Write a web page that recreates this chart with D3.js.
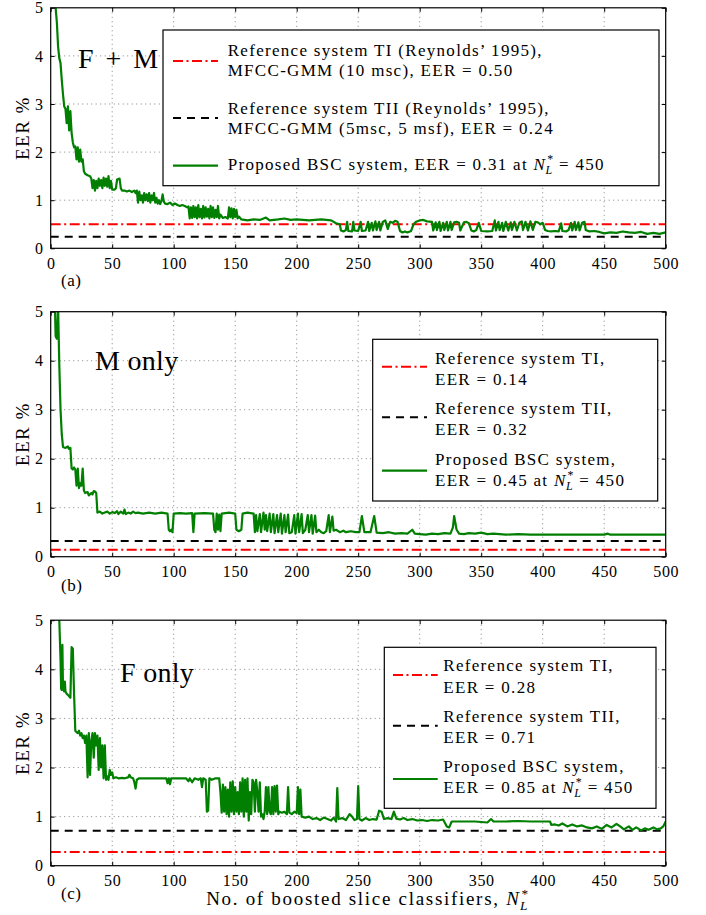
<!DOCTYPE html>
<html>
<head>
<meta charset="utf-8">
<script src="https://cdn.jsdelivr.net/npm/d3@7"></script>
<style>
  body { margin: 0; background: #fff; }
  svg { display: block; }
  text { font-family: "Liberation Serif", "Times New Roman", serif; fill: #000; }
</style>
</head>
<body>
<div id="chart"></div>
<script>
(function () {
  const WIDTH = 706;
  const HEIGHT = 915;

  const xTicks = [0, 50, 100, 150, 200, 250, 300, 350, 400, 450, 500];
  const yTicks = [0, 1, 2, 3, 4, 5];

  // EER (%) vs number of boosted slice classifiers
  const eerFM = [[1,5.8],[3,5.3],[5,4.7],[6,4.2],[7,3.95],[8,3.85],[9,3.5],[10,3.2],[11,2.95],[12,2.9],[13,2.6],[14,2.95],[15,2.45],[16,2.85],[17,2.4],[18,2.2],[19,2.1],[20,2.12],[21,1.85],[22,2.1],[23,1.8],[24,2.05],[25,1.8],[26,1.85],[27,1.6],[28,1.55],[30,1.52],[32,1.5],[33,1.45],[34,1.25],[35,1.42],[36,1.2],[37,1.4],[38,1.25],[39,1.45],[40,1.3],[41,1.42],[42,1.25],[43,1.47],[44,1.3],[45,1.45],[46,1.28],[47,1.5],[48,1.25],[49,1.4],[50,1.22],[52,1.22],[53,1.25],[54,1.43],[56,1.45],[57,1.25],[58,1.2],[60,1.2],[62,1.18],[64,1.2],[66,1.17],[68,1.2],[69,1.15],[70,1.2],[71,0.95],[72,1.18],[73,1.0],[74,1.1],[75,0.95],[76,1.15],[77,1.0],[78,1.12],[79,0.98],[80,1.15],[81,0.95],[82,1.1],[83,1.0],[84,1.15],[85,0.95],[86,1.05],[87,0.93],[88,1.0],[89,0.92],[90,0.98],[91,1.12],[92,0.97],[93,0.93],[95,0.92],[97,0.95],[99,0.9],[101,0.93],[103,0.9],[105,0.88],[107,0.9],[109,0.88],[111,0.85],[112,0.87],[113,0.62],[114,0.85],[115,0.63],[116,0.88],[117,0.65],[118,0.85],[119,0.62],[120,0.9],[121,0.65],[122,0.82],[123,0.62],[124,0.88],[125,0.64],[126,0.85],[127,0.66],[128,0.82],[129,0.62],[130,0.88],[131,0.65],[132,0.85],[133,0.63],[134,0.8],[135,0.65],[136,0.88],[137,0.62],[138,0.7],[140,0.63],[142,0.65],[144,0.62],[145,0.85],[146,0.65],[147,0.83],[148,0.62],[149,0.82],[150,0.65],[151,0.8],[152,0.62],[153,0.66],[155,0.6],[160,0.58],[165,0.6],[170,0.59],[175,0.64],[178,0.58],[185,0.6],[190,0.62],[195,0.59],[200,0.6],[210,0.58],[220,0.6],[228,0.58],[232,0.52],[235,0.5],[236,0.37],[238,0.35],[240,0.38],[241,0.55],[242,0.36],[245,0.35],[246,0.55],[247,0.37],[250,0.36],[252,0.55],[253,0.36],[256,0.37],[258,0.55],[259,0.36],[261,0.53],[262,0.37],[264,0.56],[265,0.38],[267,0.55],[268,0.37],[270,0.55],[272,0.58],[274,0.4],[276,0.55],[278,0.53],[280,0.57],[282,0.55],[284,0.36],[286,0.33],[288,0.35],[290,0.33],[293,0.36],[295,0.5],[297,0.55],[300,0.58],[303,0.59],[306,0.56],[310,0.55],[311,0.37],[313,0.54],[314,0.38],[316,0.55],[317,0.36],[319,0.53],[320,0.38],[322,0.55],[323,0.37],[325,0.55],[326,0.38],[328,0.54],[330,0.55],[332,0.53],[333,0.37],[336,0.54],[338,0.55],[340,0.52],[342,0.37],[344,0.35],[346,0.38],[348,0.53],[350,0.36],[355,0.35],[359,0.36],[361,0.58],[362,0.37],[364,0.55],[365,0.38],[367,0.53],[368,0.36],[370,0.55],[372,0.37],[374,0.54],[375,0.38],[377,0.55],[379,0.37],[381,0.53],[383,0.56],[384,0.38],[386,0.55],[388,0.37],[390,0.56],[392,0.38],[394,0.55],[396,0.54],[398,0.5],[400,0.53],[402,0.38],[404,0.36],[407,0.35],[410,0.36],[413,0.35],[415,0.52],[416,0.36],[419,0.35],[421,0.38],[423,0.53],[424,0.37],[426,0.55],[427,0.38],[429,0.54],[430,0.37],[432,0.53],[434,0.55],[435,0.38],[438,0.35],[442,0.36],[446,0.34],[450,0.31],[455,0.33],[460,0.32],[465,0.35],[470,0.33],[475,0.32],[480,0.34],[485,0.3],[490,0.32],[495,0.3],[500,0.33]];

  const eerM = [[3,5.6],[4,4.5],[5,4.45],[6,5.1],[7,3.9],[8,3.0],[9,2.5],[10,2.24],[12,2.22],[14,2.25],[15,2.2],[16,2.22],[17,1.8],[18,1.78],[19,1.82],[20,1.78],[21,1.45],[22,1.8],[23,1.4],[24,1.5],[25,1.45],[26,1.8],[27,1.35],[28,1.3],[30,1.32],[31,1.25],[33,1.3],[34,1.27],[35,1.34],[36,1.33],[37,1.3],[38,0.9],[40,0.92],[42,0.88],[44,0.9],[46,0.92],[48,0.88],[50,0.91],[52,0.89],[54,0.93],[55,0.87],[57,0.92],[59,0.88],[60,0.96],[61,0.87],[63,0.9],[65,0.88],[67,0.92],[69,0.89],[71,0.9],[75,0.88],[80,0.9],[85,0.88],[90,0.9],[95,0.88],[96,0.55],[97,0.52],[98,0.55],[99,0.5],[100,0.88],[105,0.89],[110,0.88],[115,0.89],[116,0.5],[117,0.88],[125,0.89],[132,0.88],[133,0.55],[134,0.5],[135,0.88],[136,0.55],[137,0.86],[138,0.52],[139,0.88],[145,0.9],[150,0.88],[151,0.55],[153,0.52],[155,0.55],[156,0.88],[160,0.9],[165,0.88],[166,0.5],[167,0.85],[168,0.52],[170,0.87],[171,0.5],[173,0.9],[174,0.55],[175,0.85],[176,0.52],[178,0.88],[179,0.5],[181,0.87],[182,0.48],[184,0.85],[185,0.5],[187,0.88],[188,0.47],[190,0.85],[191,0.5],[193,0.86],[194,0.48],[196,0.5],[198,0.85],[199,0.47],[201,0.88],[202,0.5],[204,0.87],[205,0.48],[207,0.55],[209,0.85],[210,0.5],[212,0.85],[213,0.47],[215,0.84],[216,0.5],[218,0.55],[220,0.5],[222,0.48],[224,0.52],[226,0.85],[227,0.5],[229,0.82],[230,0.53],[232,0.55],[235,0.5],[238,0.53],[240,0.5],[244,0.52],[248,0.5],[251,0.5],[253,0.83],[255,0.5],[260,0.5],[263,0.83],[265,0.49],[270,0.48],[275,0.5],[280,0.47],[285,0.48],[290,0.47],[294,0.55],[296,0.47],[300,0.46],[305,0.45],[310,0.47],[315,0.46],[320,0.48],[325,0.47],[327,0.6],[328,0.83],[330,0.55],[332,0.47],[336,0.46],[340,0.48],[345,0.47],[350,0.49],[355,0.46],[360,0.47],[365,0.46],[370,0.45],[380,0.46],[390,0.45],[400,0.45],[420,0.45],[450,0.45],[453,0.47],[455,0.45],[480,0.45],[500,0.45]];

  const eerF = [[6,5.8],[7,5.0],[8,4.2],[8.5,3.6],[9,3.58],[9.5,4.5],[10,3.6],[11,3.55],[11.5,3.75],[12,3.55],[13,3.5],[14,3.48],[15,3.45],[16,3.42],[17,4.45],[18,4.42],[19,3.5],[20,2.75],[21,2.72],[22,2.7],[23,2.75],[24,2.65],[25,2.7],[26,2.6],[27,2.65],[28,2.5],[29,2.65],[30,1.8],[31,2.7],[32,1.85],[33,2.55],[34,2.7],[35,2.2],[36,2.7],[37,2.45],[38,2.65],[39,1.95],[40,2.6],[41,2.0],[42,2.45],[43,1.78],[44,2.45],[45,1.75],[46,1.82],[47,1.75],[48,1.95],[49,1.85],[50,1.9],[51,1.78],[53,1.8],[55,1.78],[58,1.79],[60,1.78],[63,1.8],[64,1.85],[65,1.8],[67,1.78],[68,1.7],[69,1.57],[70,1.75],[72,1.78],[80,1.78],[90,1.78],[94,1.78],[95,1.68],[96,1.78],[97,1.66],[98,1.78],[105,1.78],[110,1.78],[112,1.72],[113,1.78],[115,1.7],[117,1.78],[120,1.75],[122,1.78],[123,1.6],[124,1.78],[126,1.75],[127,1.1],[128,1.12],[129,1.78],[131,1.75],[134,1.78],[137,1.78],[138,1.5],[139,1.08],[140,1.65],[141,1.1],[142,1.6],[143,1.05],[144,1.55],[145,1.0],[146,1.7],[147,1.1],[148,1.72],[149,1.05],[150,1.6],[151,1.1],[152,1.5],[153,1.05],[154,1.7],[155,1.1],[156,1.78],[157,1.0],[158,1.75],[159,1.1],[160,1.78],[161,0.92],[162,1.5],[163,1.05],[164,1.75],[165,1.7],[166,1.1],[167,1.75],[168,1.5],[169,1.1],[170,1.7],[171,1.0],[172,1.05],[173,0.95],[174,1.1],[175,1.6],[176,1.05],[177,1.6],[178,1.1],[179,1.05],[180,1.6],[181,1.05],[182,1.62],[183,1.1],[184,1.63],[185,1.05],[186,1.1],[188,1.08],[190,1.1],[192,1.05],[193,1.6],[194,1.08],[196,1.05],[198,1.1],[200,1.07],[201,1.6],[202,1.05],[203,1.55],[204,1.0],[207,0.98],[210,1.0],[213,0.95],[216,0.97],[219,0.93],[222,0.98],[225,0.95],[228,0.92],[230,0.98],[232,0.9],[233,1.58],[234,0.95],[237,0.97],[240,0.93],[243,1.05],[245,1.0],[247,0.93],[249,0.95],[250,1.62],[251,0.95],[253,0.92],[256,0.97],[259,0.93],[262,0.95],[265,0.94],[267,1.12],[269,1.1],[271,0.95],[274,0.97],[277,0.95],[279,1.1],[281,0.96],[284,0.94],[287,0.97],[290,0.93],[294,0.95],[298,0.92],[302,0.93],[306,0.91],[310,0.93],[315,0.92],[319,0.94],[321,0.85],[322,0.8],[324,0.78],[326,0.9],[335,0.9],[345,0.9],[355,0.88],[358,0.95],[360,0.9],[370,0.9],[380,0.91],[390,0.9],[400,0.9],[406,0.9],[407,0.83],[410,0.84],[413,0.82],[416,0.86],[420,0.8],[424,0.84],[428,0.8],[432,0.82],[436,0.78],[440,0.76],[444,0.8],[448,0.75],[452,0.83],[456,0.78],[460,0.85],[463,0.8],[466,0.74],[470,0.8],[473,0.73],[476,0.78],[480,0.72],[483,0.76],[486,0.73],[490,0.78],[493,0.74],[496,0.76],[498,0.8],[500,0.9]];

  // reference systems: [TI, TII]
  const refFM = [0.50, 0.24];
  const refM = [0.14, 0.32];
  const refF = [0.28, 0.71];

  // legend lines; "#N" marks the N*_L symbol
  const legendFM = [
    ["Reference system TI (Reynolds\u2019 1995),", "MFCC-GMM (10 msc), EER = 0.50"],
    ["Reference system TII (Reynolds\u2019 1995),", "MFCC-GMM (5msc, 5 msf), EER = 0.24"],
    ["Proposed BSC system, EER = 0.31 at #N = 450"]
  ];
  const legendM = [
    ["Reference system TI,", "EER = 0.14"],
    ["Reference system TII,", "EER = 0.32"],
    ["Proposed BSC system,", "EER = 0.45 at #N = 450"]
  ];
  const legendF = [
    ["Reference system TI,", "EER = 0.28"],
    ["Reference system TII,", "EER = 0.71"],
    ["Proposed BSC system,", "EER = 0.85 at #N = 450"]
  ];

  const panels = [
    { tag: "(a)", title: "F + M", eer: eerFM, ref: refFM, legend: legendFM,
      top: 7.8, bottom: 248.3, titleX: 78, titleY: 68, tagY: 286,
      lg: { x0: 163, x1: 659, y0: 30, y1: 185.7, sx0: 173, sx1: 218, tx: 227.7,
            rows: [[50, 70.7], [108, 128.3], [164]], samples: [61, 118, 165.7] } },
    { tag: "(b)", title: "M only", eer: eerM, ref: refM, legend: legendM,
      top: 311.7, bottom: 556.7, titleX: 95, titleY: 370, tagY: 591,
      lg: { x0: 372.7, x1: 657.7, y0: 339.3, y1: 501, sx0: 382, sx1: 427, tx: 435,
            rows: [[358.3, 379], [408.3, 429.3], [459.3, 480]], samples: [366.7, 417.3, 470.7] } },
    { tag: "(c)", title: "F only", eer: eerF, ref: refF, legend: legendF,
      top: 620.2, bottom: 865.7, titleX: 120, titleY: 681.7, tagY: 899,
      lg: { x0: 384.3, x1: 656, y0: 647.3, y1: 808.3, sx0: 393, sx1: 437.7, tx: 443.3,
            rows: [[665.7, 687], [716, 737], [766.7, 787]], samples: [675, 725.7, 779] } }
  ];

  const LEFT = 50.7, RIGHT = 665.7;
  const GREEN = "#007f00";
  const styles = [
    { stroke: "#ff0000", dash: "10,3.5,2,3.5", width: 2 },
    { stroke: "#000", dash: "8,6", width: 2 },
    { stroke: GREEN, dash: null, width: 2.2 }
  ];

  const svg = d3.select("#chart").append("svg")
    .attr("width", WIDTH)
    .attr("height", HEIGHT);

  const x = d3.scaleLinear().domain([0, 500]).range([LEFT, RIGHT]);

  // writes a legend / label string, turning "#N" into italic N with * and L
  function richText(sel, str, size) {
    const parts = str.split("#N");
    sel.append("tspan").text(parts[0]);
    if (parts.length > 1) {
      const small = size * 0.7;
      sel.append("tspan").attr("font-style", "italic").text("N");
      sel.append("tspan").attr("font-size", small).attr("dy", -size * 0.38).attr("dx", 1).text("*");
      sel.append("tspan").attr("font-size", small).attr("font-style", "italic")
        .attr("dx", -small * 0.75).attr("dy", size * 0.62).text("L");
      sel.append("tspan").attr("dy", -size * 0.24).text(parts[1]);
    }
  }

  panels.forEach((p, i) => {
    const y = d3.scaleLinear().domain([0, 5]).range([p.bottom, p.top]);
    const g = svg.append("g");

    const clipId = "clip" + i;
    svg.append("clipPath").attr("id", clipId)
      .append("rect")
      .attr("x", LEFT).attr("y", p.top)
      .attr("width", RIGHT - LEFT).attr("height", p.bottom - p.top);

    // dotted grid
    g.append("g").selectAll("line").data(xTicks.slice(1, -1)).join("line")
      .attr("x1", d => x(d)).attr("x2", d => x(d))
      .attr("y1", p.top).attr("y2", p.bottom)
      .attr("stroke", "#666").attr("stroke-width", 0.8).attr("stroke-dasharray", "1,3.5");
    g.append("g").selectAll("line").data(yTicks.slice(1, -1)).join("line")
      .attr("x1", LEFT).attr("x2", RIGHT)
      .attr("y1", d => y(d)).attr("y2", d => y(d))
      .attr("stroke", "#666").attr("stroke-width", 0.8).attr("stroke-dasharray", "1,3.5");

    const line = d3.line().x(d => x(d[0])).y(d => y(d[1]));
    const plot = g.append("g").attr("clip-path", `url(#${clipId})`);

    // reference system lines
    p.ref.forEach((v, k) => {
      plot.append("path")
        .datum([[0, v], [500, v]])
        .attr("d", line)
        .attr("fill", "none")
        .attr("stroke", styles[k].stroke)
        .attr("stroke-width", styles[k].width)
        .attr("stroke-dasharray", styles[k].dash);
    });

    plot.append("path")
      .datum(p.eer)
      .attr("d", line)
      .attr("fill", "none")
      .attr("stroke", GREEN)
      .attr("stroke-width", 2.2)
      .attr("stroke-linejoin", "round");

    // axes with inward ticks on all four sides
    g.append("g").attr("transform", `translate(0,${p.bottom})`)
      .call(d3.axisBottom(x).tickValues(xTicks).tickSize(-4).tickPadding(9));
    g.append("g").attr("transform", `translate(${LEFT},0)`)
      .call(d3.axisLeft(y).tickValues(yTicks).tickFormat(d3.format("d")).tickSize(-4).tickPadding(7));
    g.append("g").attr("transform", `translate(0,${p.top})`)
      .call(d3.axisTop(x).tickValues(xTicks).tickSize(-4).tickFormat(""));
    g.append("g").attr("transform", `translate(${RIGHT},0)`)
      .call(d3.axisRight(y).tickValues(yTicks).tickSize(-4).tickFormat(""));
    g.selectAll(".domain").remove();
    g.selectAll(".tick line").attr("stroke", "#000");
    g.selectAll(".tick text")
      .style("font-family", "'Liberation Serif', serif")
      .style("font-size", "16px")
      .style("letter-spacing", "0.6px");

    g.append("rect")
      .attr("x", LEFT).attr("y", p.top)
      .attr("width", RIGHT - LEFT).attr("height", p.bottom - p.top)
      .attr("fill", "none").attr("stroke", "#000").attr("stroke-width", 1.2);

    // legend
    const lg = p.lg;
    g.append("rect")
      .attr("x", lg.x0).attr("y", lg.y0)
      .attr("width", lg.x1 - lg.x0).attr("height", lg.y1 - lg.y0)
      .attr("fill", "#fff").attr("stroke", "#000").attr("stroke-width", 1.2);
    p.legend.forEach((rows, k) => {
      g.append("line")
        .attr("x1", lg.sx0).attr("x2", lg.sx1)
        .attr("y1", lg.samples[k]).attr("y2", lg.samples[k])
        .attr("stroke", styles[k].stroke)
        .attr("stroke-width", styles[k].width)
        .attr("stroke-dasharray", styles[k].dash);
      rows.forEach((str, r) => {
        const t = g.append("text")
          .attr("x", lg.tx).attr("y", lg.rows[k][r] + 5.5)
          .style("font-size", "17px")
          .style("letter-spacing", "1.3px");
        richText(t, str, 17);
      });
    });

    g.append("text")
      .attr("x", p.titleX).attr("y", p.titleY)
      .style("font-size", "28px")
      .style("letter-spacing", p.title === "F + M" ? "2.5px" : "0.3px")
      .text(p.title);

    g.append("text")
      .attr("x", 61).attr("y", p.tagY)
      .style("font-size", "17px")
      .style("letter-spacing", "0.5px")
      .text(p.tag);

    g.append("text")
      .attr("transform", `translate(29,${(p.top + p.bottom) / 2}) rotate(-90)`)
      .attr("text-anchor", "middle")
      .style("font-size", "19px")
      .style("letter-spacing", "1.5px")
      .text("EER %");
  });

  const xl = svg.append("text")
    .attr("x", 368).attr("y", 905)
    .attr("text-anchor", "middle")
    .style("font-size", "19px")
    .style("letter-spacing", "1.7px");
  richText(xl, "No. of boosted slice classifiers, #N", 19);
})();
</script>
</body>
</html>
